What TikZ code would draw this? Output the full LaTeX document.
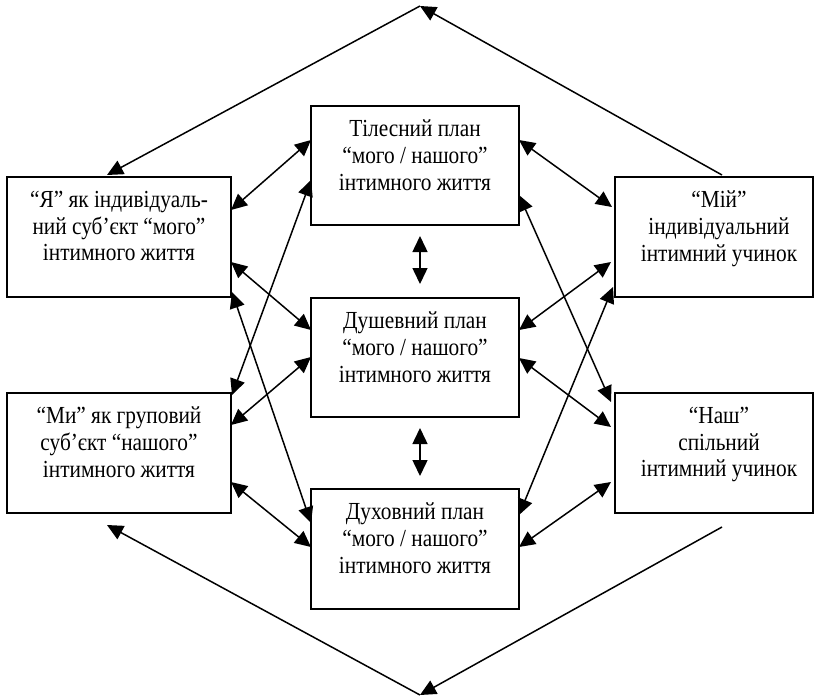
\documentclass[tikz,border=0pt]{standalone}
\usepackage{fontspec}
\setmainfont{Liberation Serif}[FakeStretch=0.87]
\usetikzlibrary{arrows.meta,calc}
\begin{document}
\begin{tikzpicture}[x=1pt,y=-1pt,
  boxst/.style={draw, line width=1.8pt, rectangle, inner sep=0pt, outer sep=0pt},
  txt/.style={align=center, inner sep=0pt, anchor=north, font=\fontsize{24.5}{26.7}\selectfont},
  both/.style={line width=1.5pt, {Triangle[length=16pt,width=15pt]}-{Triangle[length=16pt,width=15pt]}},
  oneway/.style={line width=1.5pt, -{Triangle[length=16pt,width=15pt]}}]
\useasboundingbox (0,0) rectangle (820,697);
% boxes
\node[boxst, minimum width=224pt, minimum height=120pt] (ya) at (119,237) {};
\node[boxst, minimum width=224pt, minimum height=120pt] (my) at (119,453) {};
\node[boxst, minimum width=208pt, minimum height=119pt] (t1) at (415,165.5) {};
\node[boxst, minimum width=208pt, minimum height=119pt] (t2) at (415,357.5) {};
\node[boxst, minimum width=208pt, minimum height=120pt] (t3) at (415,549) {};
\node[boxst, minimum width=198pt, minimum height=120pt] (mii) at (714,237) {};
\node[boxst, minimum width=198pt, minimum height=120pt] (nash) at (714,453) {};
% texts
\node[txt] (yat) at (119,191) {“Я” як індивідуаль-\\ний суб’єкт “мого”\\інтимного життя};
\node[txt] (myt) at (119,407) {“Ми” як груповий\\суб’єкт “нашого”\\інтимного життя};
\node[txt] (t1t) at (415,120) {Тілесний план\\“мого / нашого”\\інтимного життя};
\node[txt] (t2t) at (415,312) {Душевний план\\“мого / нашого”\\інтимного життя};
\node[txt] (t3t) at (415,503) {Духовний план\\“мого / нашого”\\інтимного життя};
\node[txt] (miit) at (719,191) {“Мій”\\індивідуальний\\інтимний учинок};
\node[txt] (nasht) at (719,407) {“Наш”\\спільний\\інтимний учинок};
% left connectors
\draw[both] ($(ya.north east)+(0,33)$) -- ($(t1.north west)+(0,34)$);
\draw[both] ($(ya.north east)+(0,85)$) -- ($(t2.north west)+(0,32)$);
\draw[both] ($(ya.north east)+(1,115)$) -- ($(t3.north west)+(0,34)$);
\draw[both] ($(my.north east)+(1,2)$) -- ($(t1.north west)+(0,74)$);
\draw[both] ($(my.north east)+(0,32)$) -- ($(t2.north west)+(0,59)$);
\draw[both] ($(my.north east)+(0,89)$) -- ($(t3.north west)+(0,58)$);
% right connectors
\draw[both] ($(t1.north east)+(0,34)$) -- ($(mii.north west)+(-3,30)$);
\draw[both] ($(t1.north east)+(0,89)$) -- ($(nash.north west)+(-4,9)$);
\draw[both] ($(t2.north east)+(0,32)$) -- ($(mii.north west)+(-4,85)$);
\draw[both] ($(t3.north east)+(0,26)$) -- ($(mii.north west)+(-2,110)$);
\draw[both] ($(t2.north east)+(0,60)$) -- ($(nash.north west)+(-4,34)$);
\draw[both] ($(t3.north east)+(0,58)$) -- ($(nash.north west)+(-4,89)$);
% vertical double arrows
\draw[both] ($(t1.south)+(5,11)$) -- ($(t2.north)+(5,-14)$);
\draw[both] ($(t2.south)+(5,11)$) -- ($(t3.north)+(5,-13)$);
% outer loops
\coordinate (topap) at (420,6);
\coordinate (botap) at (420,695);
\draw[oneway] ($(mii.north)+(8,-2)$) -- (topap);
\draw[oneway] (topap) -- ($(ya.north)+(-12,-2)$);
\draw[oneway] ($(nash.south)+(8,14)$) -- (botap);
\draw[oneway] (botap) -- ($(my.south)+(-12,12)$);
\end{tikzpicture}
\end{document}
